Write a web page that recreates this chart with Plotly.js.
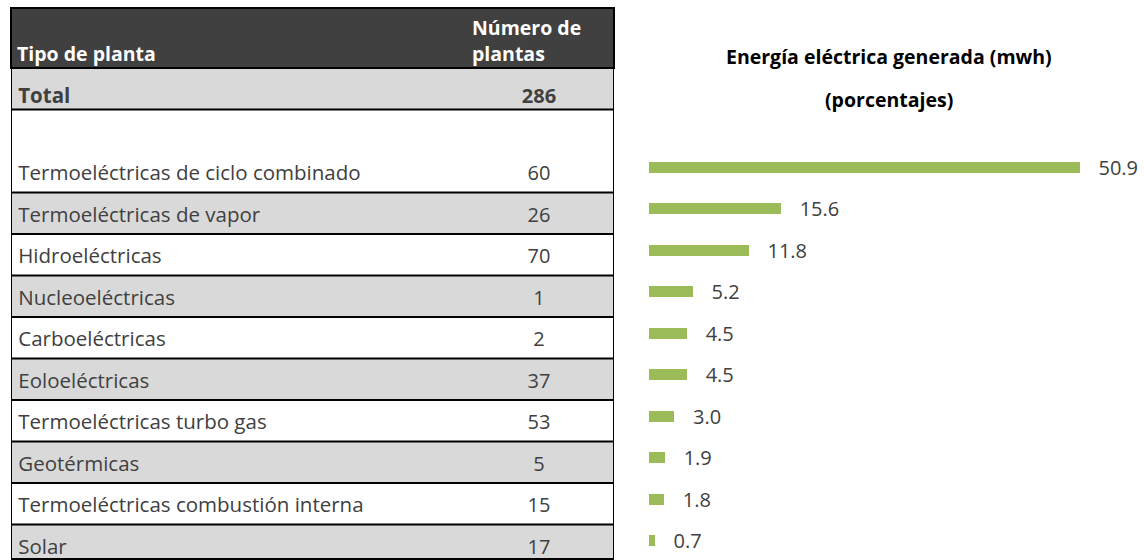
<!DOCTYPE html>
<html>
<head>
<meta charset="utf-8">
<script src="https://cdn.plot.ly/plotly-3.0.1.min.js"></script>
<style>html,body{margin:0;padding:0;background:#fff;}#chart{width:1144px;height:560px;}</style>
</head>
<body>
<div id="chart"></div>
<script>
// ---- data ----
var rowLabels = ["Total", "", "Termoeléctricas de ciclo combinado", "Termoeléctricas de vapor",
  "Hidroeléctricas", "Nucleoeléctricas", "Carboeléctricas", "Eoloeléctricas",
  "Termoeléctricas turbo gas", "Geotérmicas", "Termoeléctricas combustión interna", "Solar"];
var plantCounts = [286, null, 60, 26, 70, 1, 2, 37, 53, 5, 15, 17];
var rowShaded = [true, false, false, true, false, true, false, true, false, true, false, true];
var energyPct = [null, null, 50.9, 15.6, 11.8, 5.2, 4.5, 4.5, 3.0, 1.9, 1.8, 0.7];
var headerLeft = "Tipo de planta";
var headerRight = ["Número de", "plantas"];
var chartTitle = ["Energía eléctrica generada (mwh)", "(porcentajes)"];
var mergedWithNext = [1]; // no separator below row 1 (blank row merged with next)

// ---- build ----
var FONT = "'Open Sans', sans-serif";
var TXT = "#404040";
var W = 1144, H = 560;
var idx = rowLabels.map(function(_, i){ return i; });
// text sits a little low in its cell (Excel bottom alignment)
var textY = idx.map(function(i){ return i + (i === 0 ? 0.22 : 0.08); });

var bg = {
  type: "bar", orientation: "h", xaxis: "x2", yaxis: "y",
  y: idx, x: idx.map(function(){ return 1; }), base: 0, width: 1,
  marker: { color: rowShaded.map(function(s){ return s ? "#d9d9d9" : "#ffffff"; }), line: {width: 0} },
  hoverinfo: "skip", showlegend: false
};
var names = {
  type: "scatter", mode: "text", xaxis: "x2", yaxis: "y",
  y: textY, x: idx.map(function(){ return 0.012; }),
  text: rowLabels.map(function(t, i){ return i === 0 ? "<b>" + t + "</b>" : t; }),
  textposition: "middle right",
  textfont: { family: FONT, size: 20.5, color: TXT },
  hoverinfo: "skip", showlegend: false, cliponaxis: false
};
var nums = {
  type: "scatter", mode: "text", xaxis: "x2", yaxis: "y",
  y: textY, x: idx.map(function(){ return 0.8756; }),
  text: plantCounts.map(function(v, i){ return v === null ? "" : (i === 0 ? "<b>" + v + "</b>" : String(v)); }),
  textposition: "middle center",
  textfont: { family: FONT, size: 20, color: TXT },
  hoverinfo: "skip", showlegend: false, cliponaxis: false
};
var bars = {
  type: "bar", orientation: "h", xaxis: "x", yaxis: "y",
  y: idx, x: energyPct, width: 0.265, offset: -0.24,
  marker: { color: "#9bbb59", line: {width: 0} },
  text: energyPct.map(function(v){ return v === null ? "" : "\u00a0\u00a0\u00a0" + v.toFixed(1); }),
  textposition: "outside", cliponaxis: false, constraintext: "none",
  textfont: { family: FONT, size: 20, color: TXT },
  hoverinfo: "skip", showlegend: false
};

function py(pix){ return 1 - pix / H; }
var shapes = [];
// header block
shapes.push({ type: "rect", xref: "paper", yref: "paper", x0: 11/W, x1: 614/W, y0: py(68), y1: py(8),
  fillcolor: "#404040", line: { color: "#000", width: 2 }, layer: "above" });
// row separators
for (var i = 0; i < rowLabels.length - 1; i++) {
  if (mergedWithNext.indexOf(i) >= 0) continue;
  shapes.push({ type: "line", xref: "x2", yref: "y", x0: 0, x1: 1, y0: i + 0.5, y1: i + 0.5,
    line: { color: "#000", width: 2 }, layer: "above" });
}
// vertical borders and bottom
shapes.push({ type: "line", xref: "x2", yref: "paper", x0: 0, x1: 0, y0: py(559), y1: py(68), line: { color: "#000", width: 2 }, layer: "above" });
shapes.push({ type: "line", xref: "x2", yref: "paper", x0: 1, x1: 1, y0: py(559), y1: py(68), line: { color: "#000", width: 2 }, layer: "above" });
shapes.push({ type: "line", xref: "x2", yref: "paper", x0: 0, x1: 1, y0: py(559), y1: py(559), line: { color: "#000", width: 2 }, layer: "above" });

var hdrFont = { family: FONT, size: 19.5, color: "#ffffff" };
var ttlFont = { family: FONT, size: 19.5, color: "#000000" };
var annotations = [
  { xref: "paper", yref: "paper", x: 15/W, y: py(53), xanchor: "left", yanchor: "middle", showarrow: false,
    text: "<b>" + headerLeft + "</b>", font: hdrFont },
  { xref: "paper", yref: "paper", x: 470/W, y: py(27), xanchor: "left", yanchor: "middle", showarrow: false,
    text: "<b>" + headerRight[0] + "</b>", font: hdrFont },
  { xref: "paper", yref: "paper", x: 470/W, y: py(53), xanchor: "left", yanchor: "middle", showarrow: false,
    text: "<b>" + headerRight[1] + "</b>", font: hdrFont },
  { xref: "paper", yref: "paper", x: 889/W, y: py(57), xanchor: "center", yanchor: "middle", showarrow: false,
    text: "<b>" + chartTitle[0] + "</b>", font: ttlFont },
  { xref: "paper", yref: "paper", x: 889/W, y: py(99), xanchor: "center", yanchor: "middle", showarrow: false,
    text: "<b>" + chartTitle[1] + "</b>", font: ttlFont }
];

var layout = {
  width: W, height: H,
  margin: { l: 0, r: 0, t: 0, b: 0, pad: 0 },
  paper_bgcolor: "#ffffff", plot_bgcolor: "rgba(0,0,0,0)",
  showlegend: false, bargap: 0,
  barmode: "overlay",
  xaxis: { domain: [649/W, 0.9965], range: [0, 58], visible: false, fixedrange: true },
  xaxis2: { domain: [11/W, 614/W], range: [0, 1], visible: false, fixedrange: true },
  yaxis: { domain: [0, py(68)], range: [11.355, -0.5], visible: false, fixedrange: true },
  shapes: shapes,
  annotations: annotations
};

Plotly.newPlot("chart", [bg, names, nums, bars], layout, { displayModeBar: false, staticPlot: true });
</script>
</body>
</html>
